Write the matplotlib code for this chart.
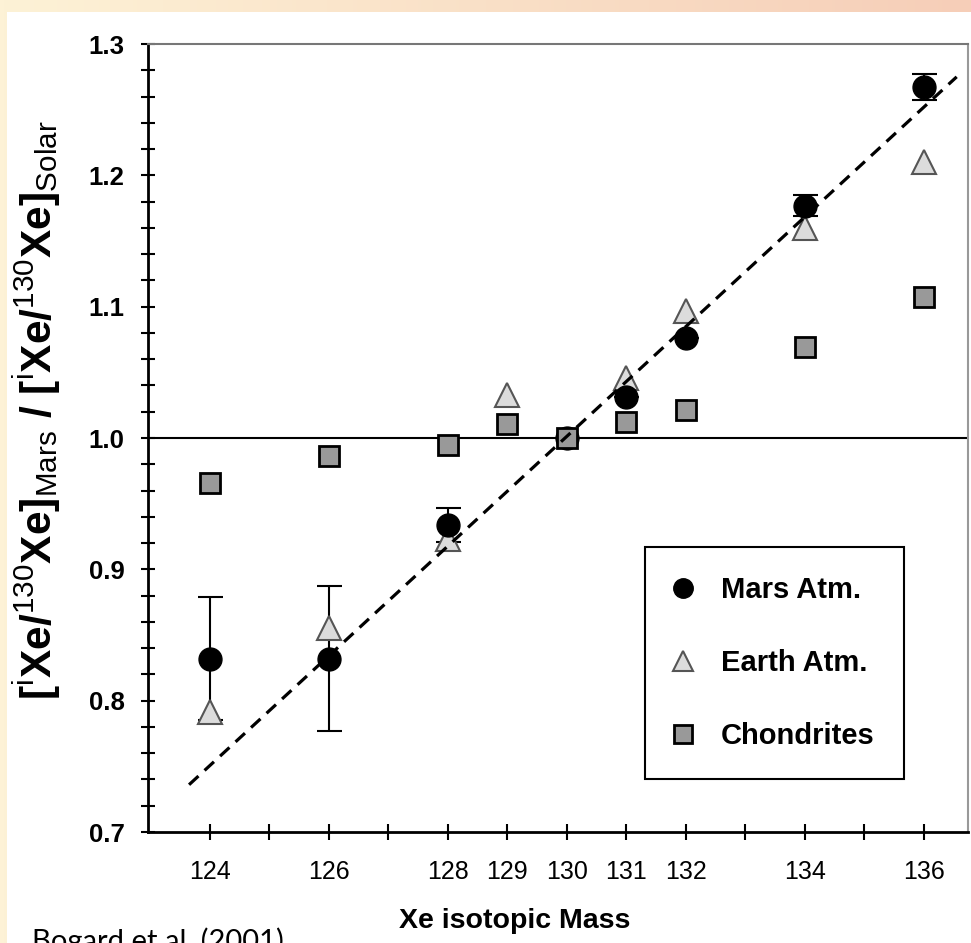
import numpy as np
import matplotlib
matplotlib.use("Agg")
import matplotlib.pyplot as plt
from matplotlib.patches import Rectangle
from matplotlib.lines import Line2D

plt.rcParams["font.family"] = ["Liberation Sans", "DejaVu Sans"]
plt.rcParams["mathtext.fontset"] = "custom"
plt.rcParams["mathtext.rm"] = "Liberation Sans"
plt.rcParams["mathtext.bf"] = "Liberation Sans:bold"
plt.rcParams["mathtext.it"] = "Liberation Sans:italic"

# --- data (Bogard et al. 2001) ---
mars_mass = [124, 126, 128, 130, 131, 132, 134, 136]
mars_ratio = [0.832, 0.832, 0.934, 1.000, 1.031, 1.076, 1.177, 1.267]
mars_err = [0.047, 0.055, 0.013, 0.0, 0.0, 0.0, 0.008, 0.010]

earth_mass = [124, 126, 128, 129, 131, 132, 134, 136]
earth_ratio = [0.791, 0.855, 0.923, 1.033, 1.046, 1.097, 1.160, 1.210]

chond_mass = [124, 126, 128, 129, 130, 131, 132, 134, 136]
chond_ratio = [0.966, 0.986, 0.995, 1.011, 1.000, 1.012, 1.021, 1.069, 1.107]

fit_mass = [123.65, 136.55]
fit_ratio = [0.736, 1.275]

xtick_pos = list(range(124, 137))
xtick_lab = ["124", "", "126", "", "128", "129", "130", "131", "132", "", "134", "", "136"]

fig = plt.figure(figsize=(9.71, 9.43), dpi=100)

# slide-like peach border
bg = fig.add_axes([0, 0, 1, 1], zorder=-10)
grad = np.linspace(0, 1, 256)
c0 = np.array([253, 242, 214]) / 255
c1 = np.array([246, 206, 184]) / 255
img = (c0[None, :] * (1 - grad[:, None]) + c1[None, :] * grad[:, None])[None, :, :]
bg.imshow(img, aspect="auto", extent=[0, 1, 0, 1])
bg.add_patch(Rectangle((7 / 971, 0), 1, (943 - 12) / 943, facecolor="white", edgecolor="none"))
bg.set_xlim(0, 1)
bg.set_ylim(0, 1)
bg.axis("off")

ax = fig.add_axes([148 / 971, 111 / 943, 820 / 971, 788 / 943])
ax.set_facecolor("white")

ax.axhline(1.0, color="black", lw=1.5, zorder=1)

ax.errorbar(mars_mass, mars_ratio, yerr=mars_err, fmt="none", ecolor="black",
            elinewidth=1.5, capsize=9, capthick=1.5, zorder=2)
ax.plot(earth_mass, earth_ratio, "^", ms=17, mfc="#dcdcdc", mec="#555555", mew=1.5, zorder=3)
ax.plot(mars_mass, mars_ratio, "o", ms=16.5, mfc="black", mec="black", zorder=4)
ax.plot(chond_mass, chond_ratio, "s", ms=15, mfc="#999999", mec="black", mew=2, zorder=5)
ax.plot(fit_mass, fit_ratio, color="black", lw=2.3, linestyle=(0, (4, 2.6)), zorder=6)

ax.set_xlim(122.96, 136.74)
ax.set_ylim(0.7, 1.3)
ax.set_xticks(xtick_pos)
ax.set_xticklabels(xtick_lab, fontsize=18)
ax.set_yticks(np.arange(0.7, 1.301, 0.1))
ax.set_yticklabels([f"{v:.1f}" for v in np.arange(0.7, 1.301, 0.1)], fontsize=18.5, fontweight="bold")
ax.set_yticks(np.arange(0.7, 1.301, 0.02), minor=True)
ax.tick_params(axis="x", direction="inout", length=12, width=1.5, pad=14)
ax.tick_params(axis="y", which="both", direction="inout", length=10, width=1.5, pad=12)

for side in ["left", "bottom"]:
    ax.spines[side].set_linewidth(2)
    ax.spines[side].set_color("black")
ax.spines["top"].set_color("#777777")
ax.spines["top"].set_linewidth(1.5)
ax.spines["right"].set_color("#999999")
ax.spines["right"].set_linewidth(1.5)

ax.set_xlabel("Xe isotopic Mass", fontsize=20.5, fontweight="bold")
ax.xaxis.set_label_coords(0.4476, -0.096)
ax.set_ylabel(r"$\mathbf{[}^{\mathrm{i}}\mathbf{Xe/}^{\mathrm{130}}\mathbf{Xe]}_{\mathrm{Mars}}"
              r"\mathbf{\ /\ [}^{\mathrm{i}}\mathbf{Xe/}^{\mathrm{130}}\mathbf{Xe]}_{\mathrm{Solar}}$",
              fontsize=30.5)
ax.yaxis.set_label_coords(-0.104, 0.535)

handles = [
    Line2D([], [], ls="none", marker="o", ms=14, mfc="black", mec="black"),
    Line2D([], [], ls="none", marker="^", ms=14, mfc="#dcdcdc", mec="#555555", mew=1.5),
    Line2D([], [], ls="none", marker="s", ms=13, mfc="#999999", mec="black", mew=2),
]
leg = ax.legend(handles, ["Mars Atm.", "Earth Atm.", "Chondrites"], loc="upper left",
                bbox_to_anchor=(0.606, 0.362), borderaxespad=0, fancybox=False,
                framealpha=1, edgecolor="black", borderpad=1.0, handlelength=0.6,
                handletextpad=1.0, labelspacing=1.55,
                prop={"size": 21, "weight": "bold"})
leg.get_frame().set_linewidth(1.5)
leg.set_zorder(10)

fig.text(32 / 971, (943 - 927) / 943, "Bogard et al. (2001)", fontsize=21,
         family=["Lato", "DejaVu Sans"], va="top", ha="left")

fig.savefig("out.png", dpi=100)
